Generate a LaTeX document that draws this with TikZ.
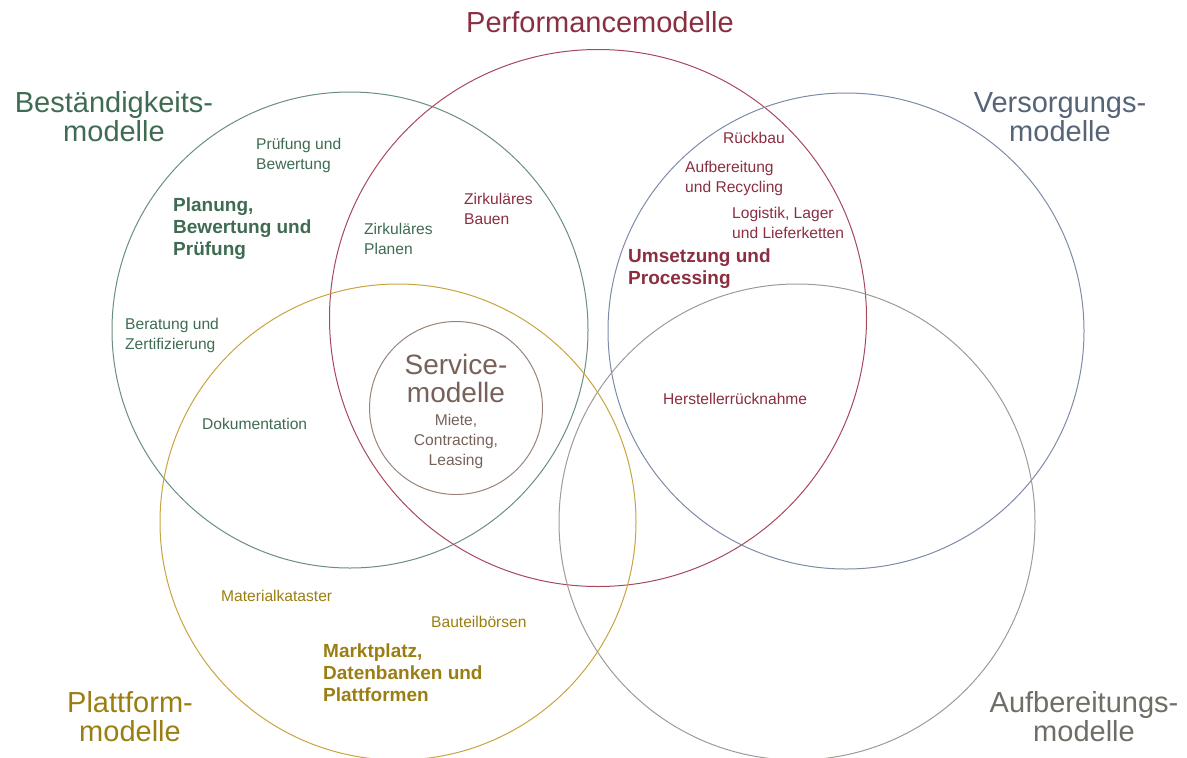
\documentclass[tikz,border=0pt]{standalone}
\usepackage{fontspec}
\setmainfont{Liberation Sans}
\usepackage{tikz}

\definecolor{gruentext}{HTML}{3E6B52}
\definecolor{gruenline}{HTML}{6A8F7C}
\definecolor{rottext}{HTML}{8A2E40}
\definecolor{rotline}{HTML}{A6495C}
\definecolor{blautext}{HTML}{566478}
\definecolor{blauline}{HTML}{7D8BA8}
\definecolor{gelbtext}{HTML}{9B7E12}
\definecolor{gelbline}{HTML}{C8A440}
\definecolor{grautext}{HTML}{6E6E66}
\definecolor{grauline}{HTML}{9C9C95}
\definecolor{brauntext}{HTML}{77625A}
\definecolor{braunline}{HTML}{998478}

\tikzset{
	ring/.style={circle, draw, line width=1pt, inner sep=0pt},
	titel/.style={font=\fontsize{29}{29}\selectfont, align=center, inner sep=0pt},
	klein/.style={font=\fontsize{15.6}{20}\selectfont, align=left, anchor=west, inner sep=0pt},
	fett/.style={font=\bfseries\fontsize{19}{22}\selectfont, align=left, anchor=west, inner sep=0pt}
}

\begin{document}
\begin{tikzpicture}[x=1pt, y=-1pt]
	\useasboundingbox (0,0) rectangle (1187,758);

	% Kreise
	\node[ring, draw=gruenline, minimum size=476pt] (best) at (350,330) {};
	\node[ring, draw=rotline, minimum size=537pt] (perf) at (598,318) {};
	\node[ring, draw=blauline, minimum size=476pt] (vers) at (846,331) {};
	\node[ring, draw=gelbline, minimum size=476pt] (platt) at (398,522) {};
	\node[ring, draw=grauline, minimum size=476pt] (aufb) at (797,522) {};
	\node[ring, draw=braunline, minimum size=173pt] (serv) at (456,408) {};

	% Titel
	\node[titel, text=rottext] (tperf) at (600,22) {Performancemodelle};
	\node[titel, text=gruentext] (tbest) at (114,117) {Beständigkeits-\\modelle};
	\node[titel, text=blautext] (tvers) at (1060,117) {Versorgungs-\\modelle};
	\node[titel, text=gelbtext] (tplatt) at (130,717) {Plattform-\\modelle};
	\node[titel, text=grautext] (taufb) at (1084,717) {Aufbereitungs-\\modelle};
	\node[titel, text=brauntext, font=\fontsize{28}{28}\selectfont] (tserv) at (456,378) {Service-\\modelle};
	\node[klein, anchor=center, align=center, text=brauntext] (mserv) at (456,441) {Miete,\\Contracting,\\Leasing};

	% Beständigkeit
	\node[klein, text=gruentext] (pruef) at (256,155) {Prüfung und\\Bewertung};
	\node[fett, text=gruentext] (plan) at (173,229) {Planung,\\Bewertung und\\Prüfung};
	\node[klein, text=gruentext] (zplan) at (364,239) {Zirkuläres\\Planen};
	\node[klein, text=gruentext] (berat) at (125,335) {Beratung und\\Zertifizierung};
	\node[klein, text=gruentext] (doku) at (202,424) {Dokumentation};

	% Performance
	\node[klein, text=rottext] (zbau) at (464,209) {Zirkuläres\\Bauen};
	\node[klein, text=rottext] (rueck) at (723,138) {Rückbau};
	\node[klein, text=rottext] (recyc) at (685,178) {Aufbereitung\\und Recycling};
	\node[klein, text=rottext] (logis) at (732,223) {Logistik, Lager\\und Lieferketten};
	\node[fett, text=rottext] (umset) at (628,269) {Umsetzung und\\Processing};
	\node[klein, text=rottext] (herst) at (663,399) {Herstellerrücknahme};

	% Plattform
	\node[klein, text=gelbtext] (mkat) at (221,596) {Materialkataster};
	\node[klein, text=gelbtext] (bboers) at (431,622) {Bauteilbörsen};
	\node[fett, text=gelbtext] (markt) at (323,673) {Marktplatz,\\Datenbanken und\\Plattformen};
\end{tikzpicture}
\end{document}
